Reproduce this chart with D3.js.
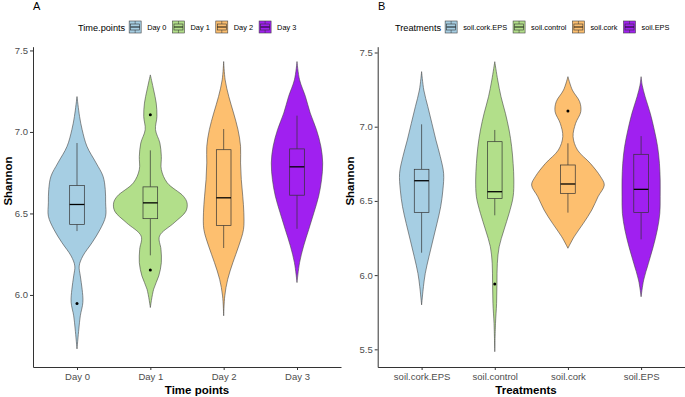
<!DOCTYPE html>
<html>
<head>
<meta charset="utf-8">
<script src="https://cdn.jsdelivr.net/npm/d3@7"></script>
<style>
  body { margin: 0; background: #fff; }
  text { font-family: "Liberation Sans", Arial, sans-serif; }
</style>
</head>
<body>
<svg width="685" height="397"></svg>
<script>
// ---- data ----
var timePoints = ["Day 0", "Day 1", "Day 2", "Day 3"];
var treatments = ["soil.cork.EPS", "soil.control", "soil.cork", "soil.EPS"];
var fills = ["#a6cee3", "#b2df8a", "#fdbf6f", "#a020f0"];

var ticksA = [6.0, 6.5, 7.0, 7.5];
var ticksB = [5.5, 6.0, 6.5, 7.0, 7.5];

// violin outlines: [Shannon, relative density]
var violinDay0 = [[7.217,0],[7.095,0.07],[7.014,0.14],[6.912,0.27],[6.810,0.52],[6.728,0.71],[6.647,0.77],[6.565,0.78],[6.483,0.78],[6.402,0.63],[6.321,0.41],[6.239,0.16],[6.178,0.06],[6.117,0.09],[6.035,0.14],[5.955,0.16],[5.872,0.09],[5.791,0.05],[5.669,0]];
var violinDay1 = [[7.350,0],[7.258,0.09],[7.177,0.16],[7.095,0.18],[7.014,0.14],[6.932,0.26],[6.850,0.30],[6.769,0.30],[6.688,0.46],[6.606,0.90],[6.565,1.0],[6.514,0.97],[6.443,0.65],[6.361,0.25],[6.280,0.29],[6.198,0.30],[6.117,0.23],[6.035,0.09],[5.923,0]];
var violinDay2 = [[7.432,0],[7.320,0.04],[7.217,0.14],[7.116,0.27],[7.014,0.39],[6.912,0.46],[6.810,0.46],[6.708,0.48],[6.606,0.52],[6.504,0.55],[6.402,0.54],[6.300,0.41],[6.198,0.25],[6.096,0.11],[5.994,0.03],[5.872,0]];
var violinDay3 = [[7.432,0],[7.320,0.07],[7.217,0.23],[7.116,0.36],[7.014,0.53],[6.912,0.65],[6.810,0.70],[6.708,0.67],[6.606,0.59],[6.504,0.46],[6.402,0.32],[6.300,0.18],[6.198,0.07],[6.076,0]];

var violinCorkEPS = [[7.371,0],[7.247,0.06],[7.135,0.17],[7.023,0.28],[6.910,0.39],[6.798,0.51],[6.686,0.60],[6.573,0.58],[6.461,0.52],[6.349,0.42],[6.237,0.31],[6.124,0.20],[6.012,0.10],[5.922,0.05],[5.799,0]];
var violinControl = [[7.438,0],[7.315,0.08],[7.202,0.17],[7.090,0.29],[6.978,0.39],[6.865,0.46],[6.753,0.50],[6.641,0.52],[6.528,0.50],[6.416,0.39],[6.304,0.25],[6.191,0.12],[6.080,0.07],[5.945,0.06],[5.810,0.05],[5.675,0.02],[5.484,0]];
var violinCork = [[7.337,0],[7.247,0.12],[7.168,0.32],[7.101,0.35],[7.023,0.21],[6.933,0.14],[6.843,0.26],[6.753,0.61],[6.663,0.89],[6.607,0.99],[6.528,0.82],[6.439,0.65],[6.349,0.42],[6.259,0.17],[6.181,0]];
var violinEPS = [[7.337,0],[7.280,0.03],[7.202,0.11],[7.090,0.25],[6.978,0.36],[6.865,0.45],[6.753,0.50],[6.641,0.52],[6.528,0.52],[6.416,0.51],[6.304,0.44],[6.191,0.33],[6.080,0.20],[5.967,0.07],[5.854,0]];

// box stats
var lowA = [6.392, 6.243, 6.288, 6.406];
var q1A = [6.433, 6.468, 6.427, 6.612];
var medA = [6.555, 6.565, 6.596, 6.786];
var q3A = [6.671, 6.663, 6.891, 6.896];
var highA = [6.932, 6.887, 7.018, 7.100];
var outA = [[5.948], [7.105, 6.153], [], []];

var lowB = [6.151, 6.403, 6.421, 6.241];
var q1B = [6.423, 6.517, 6.551, 6.421];
var medB = [6.636, 6.562, 6.614, 6.578];
var q3B = [6.713, 6.899, 6.742, 6.814];
var highB = [7.016, 6.978, 6.888, 6.937];
var outB = [[], [5.940], [7.106], []];

var svg = d3.select("svg");
var axisCol = "#333333";

function drawPanel(p) {
  var x = d3.scalePoint().domain(p.cats).range([p.left, p.right]).padding(0.6);
  var y = d3.scaleLinear().domain(p.domain).range([367, 46.7]);
  var w = d3.scaleLinear().domain([0, 1]).range([0, 36.7]);
  var boxHalf = x.step() * 0.1;
  var g = svg.append("g");

  p.cats.forEach(function(c, i) {
    var cx = x(c);
    var area = d3.area().curve(d3.curveCatmullRom)
      .y(function(d) { return y(d[0]); })
      .x0(function(d) { return cx - w(d[1]); })
      .x1(function(d) { return cx + w(d[1]); });
    g.append("path")
      .attr("d", area(p.violins[i]))
      .attr("fill", fills[i])
      .attr("stroke", "#444")
      .attr("stroke-width", 0.6);

    // whiskers
    g.append("line").attr("x1", cx).attr("x2", cx)
      .attr("y1", y(p.high[i])).attr("y2", y(p.q3[i]))
      .attr("stroke", "#333").attr("stroke-width", 0.7);
    g.append("line").attr("x1", cx).attr("x2", cx)
      .attr("y1", y(p.q1[i])).attr("y2", y(p.low[i]))
      .attr("stroke", "#333").attr("stroke-width", 0.7);
    g.append("rect")
      .attr("x", cx - boxHalf).attr("width", boxHalf * 2)
      .attr("y", y(p.q3[i])).attr("height", y(p.q1[i]) - y(p.q3[i]))
      .attr("fill", fills[i]).attr("stroke", "#333").attr("stroke-width", 0.7);
    g.append("line")
      .attr("x1", cx - boxHalf).attr("x2", cx + boxHalf)
      .attr("y1", y(p.med[i])).attr("y2", y(p.med[i]))
      .attr("stroke", "#000").attr("stroke-width", 1.3);
    p.out[i].forEach(function(v) {
      g.append("circle").attr("cx", cx).attr("cy", y(v)).attr("r", 1.5).attr("fill", "#000");
    });
  });

  var ya = g.append("g").attr("transform", "translate(" + p.left + ",0)")
    .call(d3.axisLeft(y).tickValues(p.ticks).tickFormat(d3.format(".1f")).tickSize(3).tickSizeOuter(0).tickPadding(2));
  var xa = g.append("g").attr("transform", "translate(0,367)")
    .call(d3.axisBottom(x).tickSize(3).tickSizeOuter(0).tickPadding(3));
  [ya, xa].forEach(function(a) {
    a.selectAll("path, line").attr("stroke", axisCol);
    a.selectAll("text").attr("fill", "#4d4d4d").style("font-size", "9.5px");
  });

  g.append("text").attr("x", p.titleX).attr("y", 394)
    .attr("text-anchor", "middle").style("font-weight", "bold").style("font-size", "11.5px")
    .text(p.xTitle);
  g.append("text").attr("transform", "translate(" + p.yTitleX + ",181) rotate(-90)")
    .attr("text-anchor", "middle").style("font-weight", "bold").style("font-size", "11.5px")
    .text("Shannon");
  g.append("text").attr("x", p.tagX).attr("y", 10).style("font-size", "11px").text(p.tag);

  // legend
  var lg = g.append("g");
  var t = lg.append("text").attr("x", p.legX).attr("y", 30.5).style("font-size", "9.2px").text(p.legTitle);
  var kx = p.legX + t.node().getComputedTextLength() + 4;
  p.cats.forEach(function(c, i) {
    var k = lg.append("g").attr("transform", "translate(" + kx + ",21)");
    k.append("rect").attr("width", 12).attr("height", 12).attr("fill", fills[i]).attr("stroke", "#444").attr("stroke-width", 0.6);
    k.append("line").attr("x1", 6).attr("x2", 6).attr("y1", 0).attr("y2", 12).attr("stroke", "#333").attr("stroke-width", 0.5);
    k.append("rect").attr("x", 1.5).attr("y", 3).attr("width", 9).attr("height", 6).attr("fill", fills[i]).attr("stroke", "#333").attr("stroke-width", 0.6);
    k.append("line").attr("x1", 1.5).attr("x2", 10.5).attr("y1", 6).attr("y2", 6).attr("stroke", "#000").attr("stroke-width", 0.9);
    var lt = lg.append("text").attr("x", kx + 18).attr("y", 30).style("font-size", "7.4px").text(c);
    kx = kx + 18 + lt.node().getComputedTextLength() + 6;
  });
}

drawPanel({
  cats: timePoints, left: 33, right: 341, domain: [5.558, 7.523], ticks: ticksA,
  violins: [violinDay0, violinDay1, violinDay2, violinDay3],
  low: lowA, q1: q1A, med: medA, q3: q3A, high: highA, out: outA,
  xTitle: "Time points", titleX: 197, yTitleX: 12, tag: "A", tagX: 33,
  legTitle: "Time.points", legX: 78
});

drawPanel({
  cats: treatments, left: 377.7, right: 685, domain: [5.381, 7.539], ticks: ticksB,
  violins: [violinCorkEPS, violinControl, violinCork, violinEPS],
  low: lowB, q1: q1B, med: medB, q3: q3B, high: highB, out: outB,
  xTitle: "Treatments", titleX: 526, yTitleX: 354, tag: "B", tagX: 378,
  legTitle: "Treatments", legX: 395
});
</script>
</body>
</html>
